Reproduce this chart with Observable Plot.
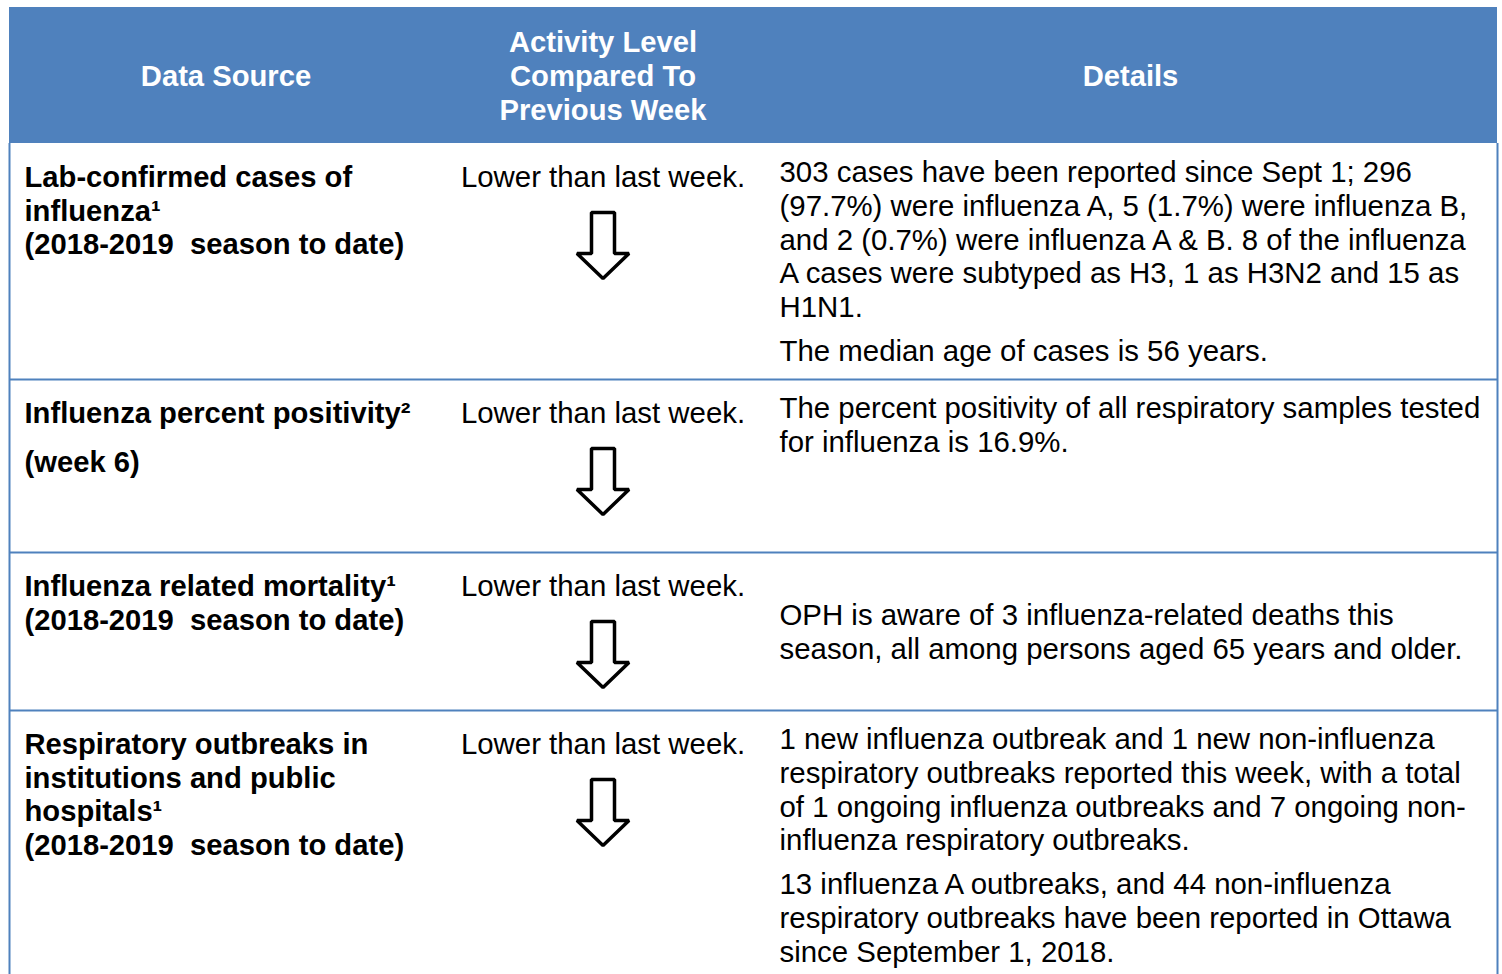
<!DOCTYPE html>
<html>
<head>
<meta charset="utf-8">
<script src="https://cdn.jsdelivr.net/npm/d3@7"></script>
<script src="https://cdn.jsdelivr.net/npm/@observablehq/plot@0.6"></script>
<style>
  html, body { margin: 0; padding: 0; background: #ffffff; }
  svg { display: block; }
</style>
</head>
<body>
<div id="chart"></div>
<script>
// ---------- DATA ----------
const headers = ["Data Source", "Activity Level\nCompared To\nPrevious Week", "Details"];

const sources = [
  ["Lab-confirmed cases of\ninfluenza\u00b9\n(2018-2019\u00a0 season to date)"],
  ["Influenza percent positivity\u00b2", "(week 6)"],
  ["Influenza related mortality\u00b9\n(2018-2019\u00a0 season to date)"],
  ["Respiratory outbreaks in\ninstitutions and public\nhospitals\u00b9\n(2018-2019\u00a0 season to date)"]
];

const activity = [
  "Lower than last week.",
  "Lower than last week.",
  "Lower than last week.",
  "Lower than last week."
];

const trend = ["down", "down", "down", "down"];

const details = [
  ["303 cases have been reported since Sept 1; 296\n(97.7%) were influenza A, 5 (1.7%) were influenza B,\nand 2 (0.7%) were influenza A & B. 8 of the influenza\nA cases were subtyped as H3, 1 as H3N2 and 15 as\nH1N1.",
   "The median age of cases is 56 years."],
  ["The percent positivity of all respiratory samples tested\nfor influenza is 16.9%."],
  ["\nOPH is aware of 3 influenza-related deaths this\nseason, all among persons aged 65 years and older."],
  ["1 new influenza outbreak and 1 new non-influenza\nrespiratory outbreaks reported this week, with a total\nof 1 ongoing influenza outbreaks and 7 ongoing non-\ninfluenza respiratory outbreaks.",
   "13 influenza A outbreaks, and 44 non-influenza\nrespiratory outbreaks have been reported in Ottawa\nsince September 1, 2018."]
];

// ---------- LAYOUT ----------
const W = 1502, H = 974;
const blue = "#4f81bd";
const fontSize = 29.4, boldSize = 29.2;
const lineH = 33.8;
const colEdges = [9, 442, 763, 1497];
const headerTop = 7, headerBottom = 143;
const rowBottoms = [379, 552, 710, 974];
const rowTops = [headerBottom, ...rowBottoms.slice(0, -1)];
const padLeft = 15, padLeft3 = 16;
const firstLine = [34, 34, 29];      // offset of first line centre below row top, per column
const paraGap = [15, 0, 10];         // extra space between paragraphs, per column
const arrowOffset = 35;              // arrow top below activity line centre
const arrowShape = [[-11.5, 0], [11.5, 0], [11.5, 41], [26, 41], [0, 66], [-26, 41], [-11.5, 41]];

// ---------- BUILD TEXT LINES ----------
const groups = {header: [], source: [], activity: [], details: []};
function addCell(group, paragraphs, x, top, col) {
  let y = top;
  paragraphs.forEach((p, pi) => {
    if (pi > 0) y += paraGap[col];
    p.split("\n").forEach(t => {
      if (t) groups[group].push({text: t, x, y});
      y += lineH;
    });
  });
}
const colCenters = colEdges.slice(0, -1).map((e, i) => (e + colEdges[i + 1]) / 2);
const headerMid = (headerTop + headerBottom) / 2 + 1;
headers.forEach((h, i) => {
  const parts = h.split("\n");
  const start = headerMid - (parts.length - 1) * lineH / 2;
  addCell("header", [h], colCenters[i], start, 1);
});
const arrows = [];
rowTops.forEach((top, r) => {
  addCell("source", sources[r], colEdges[0] + padLeft, top + firstLine[0], 0);
  addCell("activity", [activity[r]], colCenters[1], top + firstLine[1], 1);
  addCell("details", details[r], colEdges[2] + padLeft3, top + firstLine[2], 2);
  if (trend[r] === "down") {
    const ay = top + firstLine[1] + arrowOffset;
    arrowShape.forEach(([dx, dy]) => arrows.push({row: r, x: colCenters[1] + dx, y: ay + dy}));
  }
});

const frame = [{x1: colEdges[0], x2: colEdges[3], y1: headerTop, y2: headerBottom}];
const txt = {x: "x", y: "y", text: "text", lineAnchor: "middle"};

const chart = Plot.plot({
  width: W,
  height: H,
  margin: 0,
  x: {domain: [0, W], range: [0, W], axis: null},
  y: {domain: [0, H], range: [0, H], axis: null},
  style: {fontFamily: "'Liberation Sans', Arial, sans-serif", background: "white"},
  marks: [
    Plot.rect(frame, {x1: "x1", x2: "x2", y1: "y1", y2: "y2", fill: blue}),
    Plot.ruleY(rowBottoms.slice(0, -1), {x1: colEdges[0], x2: colEdges[3], stroke: blue, strokeWidth: 2}),
    Plot.ruleX([colEdges[0], colEdges[3]], {y1: headerBottom, y2: H, stroke: blue, strokeWidth: 2}),
    Plot.line(arrows, {x: "x", y: "y", z: "row", curve: "linear-closed", stroke: "black", strokeWidth: 3.5, fill: "white", strokeLinejoin: "miter"}),
    Plot.text(groups.header, {...txt, fontSize: boldSize, textAnchor: "middle", fontWeight: "bold", fill: "white"}),
    Plot.text(groups.source, {...txt, fontSize: boldSize, textAnchor: "start", fontWeight: "bold", fill: "black"}),
    Plot.text(groups.activity, {...txt, fontSize: fontSize, textAnchor: "middle", fill: "black"}),
    Plot.text(groups.details, {...txt, fontSize: fontSize, textAnchor: "start", fill: "black"})
  ]
});
document.getElementById("chart").appendChild(chart);
</script>
</body>
</html>
